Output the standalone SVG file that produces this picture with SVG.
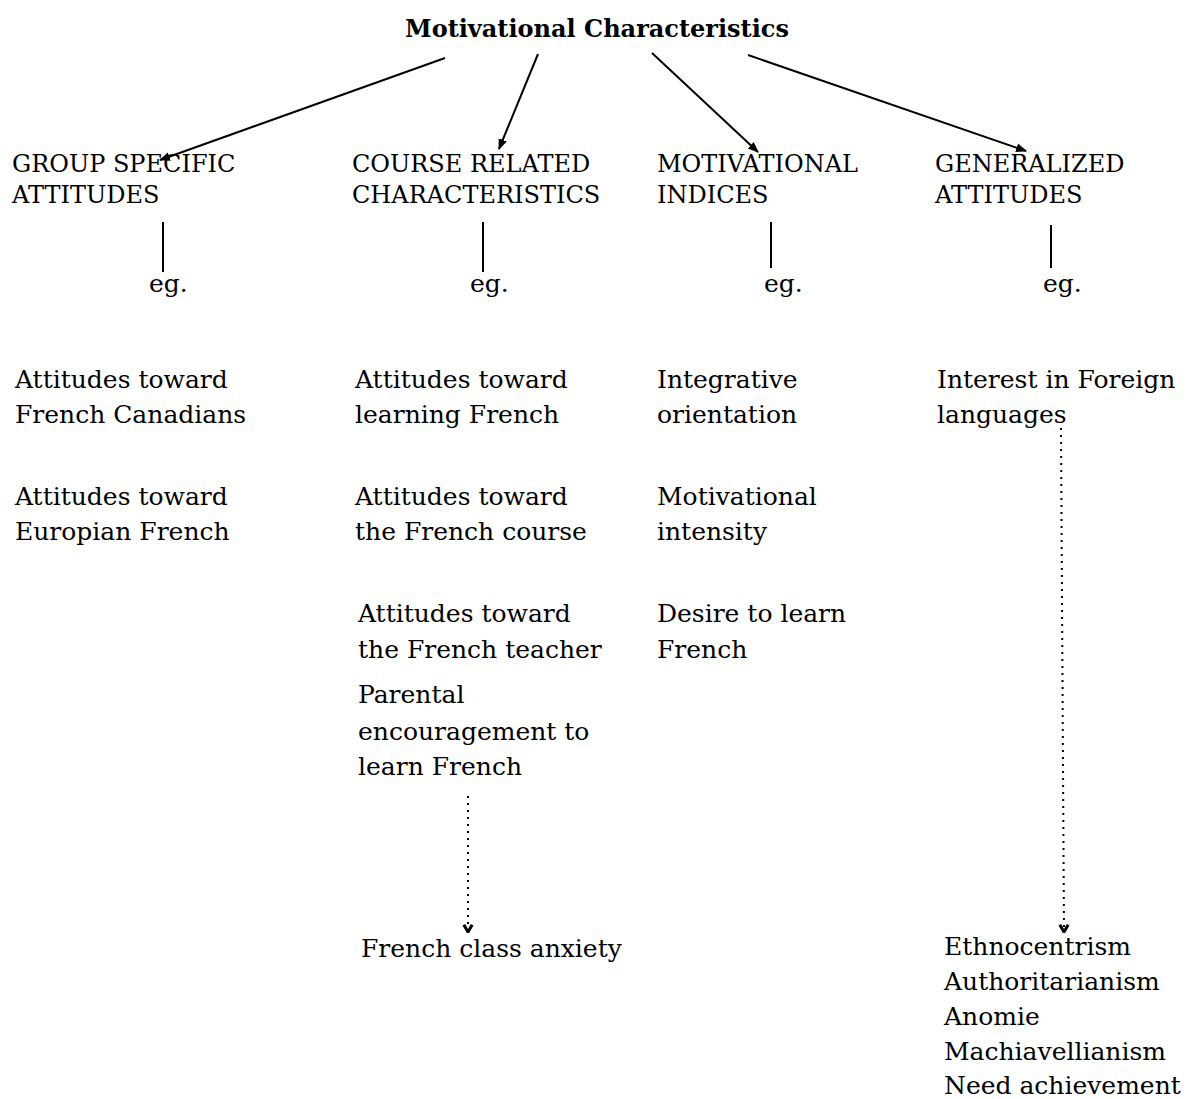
<svg xmlns="http://www.w3.org/2000/svg" width="1191" height="1099" viewBox="0 0 1191 1099">
<style>
text{font-family:"DejaVu Serif","Liberation Serif",serif;font-size:25px;fill:#000}
.title{font-weight:bold;font-size:24px}
.hdr{font-size:24px}
.solid{stroke:#000;stroke-width:2;fill:none}
.dot{stroke:#000;stroke-width:2;fill:none;stroke-dasharray:2 5}
</style>
<defs>
<marker id="ah" viewBox="0 0 10 10" refX="9" refY="5" markerWidth="11" markerHeight="11" markerUnits="userSpaceOnUse" orient="auto"><path d="M0,1 L10,5 L0,9 z" fill="#000"/></marker>
<marker id="chev" viewBox="0 0 10 10" refX="5" refY="9" markerWidth="12" markerHeight="12" markerUnits="userSpaceOnUse" orient="0"><path d="M1.5,3 L5,9 L8.5,3" fill="none" stroke="#000" stroke-width="2.5"/></marker>
</defs>
<rect width="1191" height="1099" fill="#fff"/>
<g id="root"><text class="title" x="597" y="37" text-anchor="middle">Motivational Characteristics</text></g>
<g id="group-specific">
<text class="hdr" x="12" y="172">GROUP SPECIFIC</text>
<text class="hdr" x="12" y="203">ATTITUDES</text>
<text x="149" y="292">eg.</text>
<text x="15" y="388">Attitudes toward</text>
<text x="15" y="423">French Canadians</text>
<text x="15" y="505">Attitudes toward</text>
<text x="15" y="540">Europian French</text>
</g>
<g id="course-related">
<text class="hdr" x="352" y="172">COURSE RELATED</text>
<text class="hdr" x="352" y="203">CHARACTERISTICS</text>
<text x="470" y="292">eg.</text>
<text x="355" y="388">Attitudes toward</text>
<text x="355" y="423">learning French</text>
<text x="355" y="505">Attitudes toward</text>
<text x="355" y="540">the French course</text>
<text x="358" y="622">Attitudes toward</text>
<text x="358" y="658">the French teacher</text>
<text x="358" y="703">Parental</text>
<text x="358" y="740">encouragement to</text>
<text x="358" y="775">learn French</text>
</g>
<g id="anxiety"><text x="361" y="957">French class anxiety</text></g>
<g id="motivational-indices">
<text class="hdr" x="657" y="172">MOTIVATIONAL</text>
<text class="hdr" x="657" y="203">INDICES</text>
<text x="764" y="292">eg.</text>
<text x="657" y="388">Integrative</text>
<text x="657" y="423">orientation</text>
<text x="657" y="505">Motivational</text>
<text x="657" y="540">intensity</text>
<text x="657" y="622">Desire to learn</text>
<text x="657" y="658">French</text>
</g>
<g id="generalized">
<text class="hdr" x="935" y="172">GENERALIZED</text>
<text class="hdr" x="935" y="203">ATTITUDES</text>
<text x="1043" y="292">eg.</text>
<text x="937" y="388">Interest in Foreign</text>
<text x="937" y="423">languages</text>
</g>
<g id="personality">
<text x="944" y="955">Ethnocentrism</text>
<text x="944" y="990">Authoritarianism</text>
<text x="944" y="1025">Anomie</text>
<text x="944" y="1060">Machiavellianism</text>
<text x="944" y="1094">Need achievement</text>
</g>
<g id="connectors">
<line class="solid" x1="445" y1="58" x2="160" y2="160" marker-end="url(#ah)"/>
<line class="solid" x1="538" y1="54" x2="499" y2="149" marker-end="url(#ah)"/>
<line class="solid" x1="652" y1="53" x2="758" y2="152" marker-end="url(#ah)"/>
<line class="solid" x1="748" y1="55" x2="1026" y2="151" marker-end="url(#ah)"/>
<line class="solid" x1="163" y1="222" x2="163" y2="272"/>
<line class="solid" x1="483" y1="222" x2="483" y2="272"/>
<line class="solid" x1="771" y1="222" x2="771" y2="268"/>
<line class="solid" x1="1051" y1="225" x2="1051" y2="268"/>
<line class="dot" x1="468" y1="796" x2="468" y2="932" marker-end="url(#chev)"/>
<line class="dot" x1="1061" y1="428" x2="1064" y2="932" marker-end="url(#chev)"/>
</g>
</svg>
